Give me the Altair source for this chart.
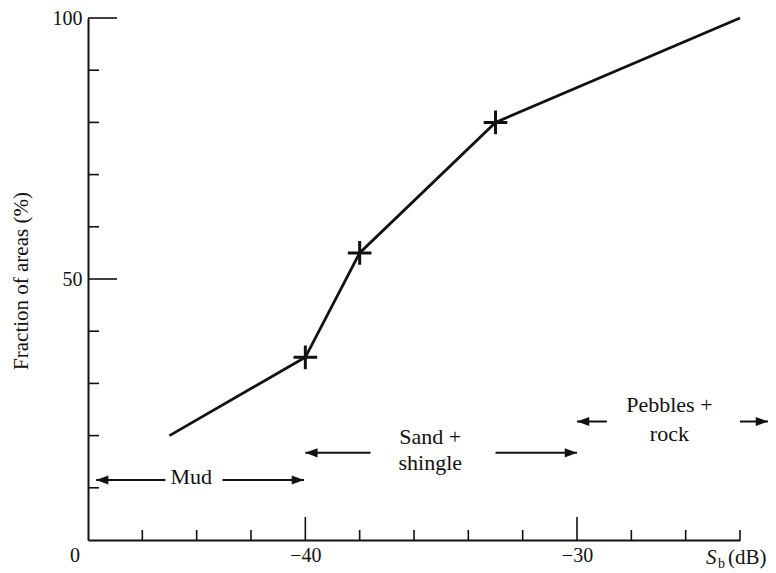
import altair as alt
import pandas as pd

# ---- data ----
sb_db = [-45, -40, -38, -33, -24]
fraction = [20, 35, 55, 80, 100]
has_marker = [False, True, True, True, False]

x_minor_ticks = [-46, -44, -42, -38, -36, -34, -32, -28, -26, -24]
x_major_ticks = [-40, -30]
y_minor_ticks = [10, 20, 30, 40, 60, 70, 80, 90]
y_major_ticks = [50, 100]

# annotation arrows (data coordinates)
arrow_x1 = [-47.7, -43.05, -37.6, -33.0, -28.9, -24.0]
arrow_x2 = [-45.15, -40.05, -40.0, -30.0, -30.0, -22.97]
arrow_y = [11.5, 11.5, 16.7, 16.7, 22.7, 22.7]
head_x = [-47.7, -40.05, -40.0, -30.0, -30.0, -22.97]
head_dir = ["left", "right", "left", "right", "left", "right"]

label_text = ["Mud", "Sand +", "shingle", "Pebbles +", "rock"]
label_x = [-44.2, -35.4, -35.4, -26.6, -26.6]
label_y = [12.1, 19.7, 14.75, 25.9, 20.3]

FONT = "Liberation Serif"
INK = "#111111"

curve = pd.DataFrame({"sb": sb_db, "frac": fraction, "mark": has_marker})
pts = curve[curve["mark"]]
xminor = pd.DataFrame({"v": x_minor_ticks})
xmajor = pd.DataFrame({"v": x_major_ticks})
yminor = pd.DataFrame({"v": y_minor_ticks})
ymajor = pd.DataFrame({"v": y_major_ticks})
arrows = pd.DataFrame({"x1": arrow_x1, "x2": arrow_x2, "y": arrow_y})
heads = pd.DataFrame({"x": head_x, "y": arrow_y, "dir": head_dir})
labels = pd.DataFrame({"t": label_text, "x": label_x, "y": label_y})

xs = alt.Scale(domain=[-48, -24], nice=False, zero=False)
ys = alt.Scale(domain=[0, 100], nice=False, zero=False)

x_axis = alt.Axis(values=[-40, -30], ticks=False, tickSize=0, grid=False,
                  labelExpr="'\u2212' + format(abs(datum.value), 'd')",
                  labelFont=FONT, labelFontSize=20, labelColor=INK, labelPadding=5,
                  domainColor=INK, domainWidth=2, title=None)
y_axis = alt.Axis(values=[50, 100], ticks=False, tickSize=0, grid=False,
                  labelFont=FONT, labelFontSize=20, labelColor=INK, labelPadding=6,
                  domainColor=INK, domainWidth=2, title=None)


def X(field):
    return alt.X(field, scale=xs, axis=x_axis)


def Y(field):
    return alt.Y(field, scale=ys, axis=y_axis)


line = alt.Chart(curve).mark_line(color=INK, strokeWidth=2.8).encode(
    x=X("sb:Q"), y=Y("frac:Q"))

plus = alt.Chart(pts).mark_point(
    shape="M-1,0L1,0M0,-1L0,1", filled=False, size=560, strokeWidth=3, color=INK, opacity=1
).encode(x=X("sb:Q"), y=Y("frac:Q"))

xt_minor = alt.Chart(xminor).mark_rule(color=INK, strokeWidth=1.6).encode(
    x=X("v:Q"), y=alt.value(522), y2=alt.value(512))
xt_major = alt.Chart(xmajor).mark_rule(color=INK, strokeWidth=1.6).encode(
    x=X("v:Q"), y=alt.value(522), y2=alt.value(499))
yt_minor = alt.Chart(yminor).mark_rule(color=INK, strokeWidth=1.6).encode(
    y=Y("v:Q"), x=alt.value(0), x2=alt.value(11))
yt_major = alt.Chart(ymajor).mark_rule(color=INK, strokeWidth=1.6).encode(
    y=Y("v:Q"), x=alt.value(0), x2=alt.value(29))

arrow_lines = alt.Chart(arrows).mark_rule(color=INK, strokeWidth=2).encode(
    x=X("x1:Q"), x2="x2:Q", y=Y("y:Q"))

head_r = alt.Chart(heads).transform_filter(alt.datum.dir == "right").mark_point(
    shape="M0,0L-2,-0.75L-2,0.75Z", filled=True, size=150, color=INK, opacity=1, strokeWidth=0
).encode(x=X("x:Q"), y=Y("y:Q"))
head_l = alt.Chart(heads).transform_filter(alt.datum.dir == "left").mark_point(
    shape="M0,0L2,-0.75L2,0.75Z", filled=True, size=150, color=INK, opacity=1, strokeWidth=0
).encode(x=X("x:Q"), y=Y("y:Q"))

texts = alt.Chart(labels).mark_text(
    font=FONT, fontSize=22, color=INK, align="center", baseline="middle"
).encode(x=X("x:Q"), y=Y("y:Q"), text="t:N")

origin = alt.Chart(pd.DataFrame({"t": ["0"]})).mark_text(
    font=FONT, fontSize=20, color=INK, align="center", baseline="middle"
).encode(x=alt.value(-13), y=alt.value(538), text="t:N")

ytitle = alt.Chart(pd.DataFrame({"t": ["Fraction of areas (%)"]})).mark_text(
    font=FONT, fontSize=21, color=INK, align="center", baseline="middle", angle=270
).encode(x=alt.value(-66), y=alt.value(263), text="t:N")

xs_S = alt.Chart(pd.DataFrame({"t": ["S"]})).mark_text(
    font=FONT, fontSize=21, fontStyle="italic", color=INK, align="left", baseline="alphabetic"
).encode(x=alt.value(618), y=alt.value(546), text="t:N")
xs_b = alt.Chart(pd.DataFrame({"t": ["b"]})).mark_text(
    font=FONT, fontSize=14, color=INK, align="left", baseline="alphabetic"
).encode(x=alt.value(630), y=alt.value(550), text="t:N")
xs_db = alt.Chart(pd.DataFrame({"t": ["(dB)"]})).mark_text(
    font=FONT, fontSize=21, color=INK, align="left", baseline="alphabetic"
).encode(x=alt.value(640), y=alt.value(546), text="t:N")

chart = alt.layer(
    line, xt_minor, xt_major, yt_minor, yt_major, plus,
    arrow_lines, head_r, head_l, texts, origin, ytitle, xs_S, xs_b, xs_db
).properties(
    width=652, height=522,
    padding={"left": 88, "top": 18, "right": 36, "bottom": 33},
    autosize=alt.AutoSizeParams(type="none"),
    background="white",
).configure_view(stroke=None)

chart.save("out.html", embed_options={"renderer": "svg", "actions": False})
